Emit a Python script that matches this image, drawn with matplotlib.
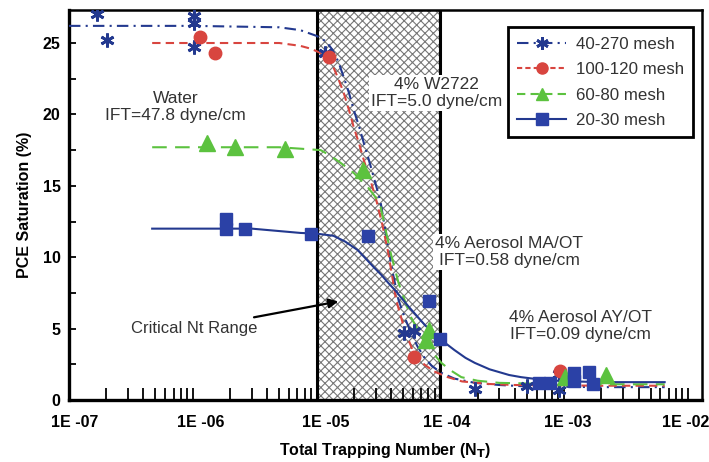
import matplotlib
matplotlib.use("Agg")
import matplotlib.pyplot as plt
import matplotlib.transforms as mtransforms
from matplotlib.lines import Line2D
from matplotlib.ticker import FixedLocator, LogLocator, NullFormatter, MultipleLocator

plt.rcParams['font.family'] = ['Liberation Sans', 'DejaVu Sans']
plt.rcParams['hatch.linewidth'] = 0.8

# measured points
nt_40_270 = [1.69e-7, 2.04e-7, 1.03e-6, 1.03e-6, 1.03e-6, 1.18e-5, 5.1e-5, 6.1e-5, 1.9e-4, 5.0e-4, 9.1e-4, 9.1e-4]
sat_40_270 = [27.0, 25.2, 26.9, 26.4, 24.7, 24.3, 4.7, 4.8, 0.8, 1.0, 1.85, 0.7]

nt_100_120 = [1.14e-6, 1.51e-6, 1.27e-5, 6.1e-5, 9.3e-4]
sat_100_120 = [25.4, 24.3, 24.0, 3.0, 2.0]

nt_60_80 = [1.30e-6, 2.19e-6, 5.6e-6, 2.37e-5, 8.1e-5, 7.6e-5, 1.02e-3, 2.2e-3]
sat_60_80 = [18.0, 17.7, 17.6, 16.1, 4.9, 4.2, 1.6, 1.75]

nt_20_30 = [1.85e-6, 1.85e-6, 2.65e-6, 9.1e-6, 2.6e-5, 8.1e-5, 1.0e-4, 6.3e-4, 7.7e-4, 1.2e-3, 1.2e-3, 1.6e-3, 1.7e-3]
sat_20_30 = [12.7, 12.0, 12.0, 11.6, 11.5, 6.9, 4.3, 1.2, 1.2, 1.9, 1.3, 1.95, 1.1]

# fitted curves
fit_nt_40_270 = [1e-7, 1e-6, 5e-6, 7.4e-6, 1.0e-5, 1.2e-5, 1.35e-5, 1.5e-5, 1.66e-5, 1.83e-5, 2.0e-5,
                 2.2e-5, 2.41e-5, 2.65e-5, 2.9e-5, 3.1e-5, 3.3e-5, 3.55e-5, 3.8e-5, 4.2e-5, 4.6e-5,
                 5.2e-5, 5.8e-5, 6.5e-5, 7.4e-5, 8.5e-5, 1.02e-4, 1.3e-4, 1.9e-4, 3e-4, 5e-4, 2e-3, 6.5e-3]
fit_sat_40_270 = [26.2, 26.2, 26.1, 25.9, 25.5, 25.1, 24.5, 23.7, 22.6, 21.5, 20.3,
                  19.2, 18.0, 16.8, 15.6, 14.7, 13.8, 12.2, 10.6, 8.6, 7.0,
                  5.7, 4.7, 3.8, 3.0, 2.4, 1.9, 1.5, 1.2, 1.05, 0.95, 0.9, 0.9]

fit_nt_100_120 = [4.7e-7, 5e-6, 7.4e-6, 9e-6, 1.08e-5, 1.22e-5, 1.37e-5, 1.5e-5, 1.66e-5, 1.83e-5,
                  2.0e-5, 2.2e-5, 2.41e-5, 2.7e-5, 3.0e-5, 3.4e-5, 3.8e-5, 4.1e-5, 4.4e-5, 5.2e-5,
                  6.1e-5, 7.4e-5, 8.9e-5, 1.15e-4, 1.5e-4, 2.5e-4, 4e-4, 2e-3, 6.5e-3]
fit_sat_100_120 = [25.0, 25.0, 24.8, 24.6, 24.3, 23.9, 23.3, 22.5, 21.5, 20.3,
                   19.1, 18.0, 16.8, 15.5, 14.2, 12.3, 10.3, 8.6, 7.0, 4.8,
                   3.3, 2.5, 2.0, 1.6, 1.3, 1.12, 1.05, 1.0, 1.0]

fit_nt_60_80 = [4.7e-7, 5e-6, 7.4e-6, 1.08e-5, 1.3e-5, 1.57e-5, 2.0e-5, 2.6e-5, 3.0e-5, 3.3e-5,
                3.6e-5, 4.0e-5, 4.6e-5, 5.2e-5, 5.8e-5, 6.5e-5, 7.4e-5, 8.7e-5, 1.02e-4, 1.2e-4,
                1.48e-4, 2.0e-4, 3e-4, 1e-3, 6.5e-3]
fit_sat_60_80 = [17.7, 17.7, 17.6, 17.5, 17.1, 16.6, 15.9, 14.9, 14.2, 13.5,
                 12.0, 10.2, 8.2, 6.9, 5.8, 5.0, 4.2, 3.3, 2.6, 2.1,
                 1.6, 1.35, 1.2, 1.1, 1.1]

fit_nt_20_30 = [4.7e-7, 3e-6, 7.4e-6, 1.0e-5, 1.37e-5, 1.7e-5, 2.15e-5, 2.5e-5, 2.9e-5, 3.35e-5,
                3.8e-5, 4.3e-5, 4.8e-5, 5.6e-5, 6.6e-5, 7.6e-5, 8.9e-5, 1.02e-4, 1.3e-4, 1.6e-4,
                1.9e-4, 2.5e-4, 3.0e-4, 3.6e-4, 4.5e-4, 6.6e-4, 1e-3, 2e-3, 6.5e-3]
fit_sat_20_30 = [12.0, 12.0, 11.7, 11.65, 11.5, 11.1, 10.5, 9.9, 9.3, 8.75,
                 8.2, 7.7, 7.2, 6.5, 5.8, 5.2, 4.7, 4.2, 3.5, 2.95,
                 2.6, 2.15, 1.95, 1.75, 1.6, 1.42, 1.32, 1.25, 1.25]

decades = [1e-7, 1e-6, 1e-5, 1e-4, 1e-3, 1e-2]
decade_labels = ["1E -07", "1E -06", "1E -05", "1E -04", "1E -03", "1E -02"]

navy = "#23398f"
red = "#d8453f"
green = "#5cc23f"
square_blue = "#2b41a6"

fig = plt.figure(figsize=(7.09, 4.62), dpi=100)
ax = fig.add_axes([0.0973, 0.1342, 0.8927, 0.8438])
ax.set_xscale("log")

# critical Nt range
ax.axvspan(1e-5, 1e-4, facecolor="white", edgecolor="#777777", hatch="xxxx", linewidth=0, zorder=0)
ax.axvline(1e-5, color="black", lw=2.2, zorder=1)
ax.axvline(1e-4, color="black", lw=2.2, zorder=1)

lw = 1.5
ax.plot(fit_nt_40_270, fit_sat_40_270, color=navy, lw=lw, dashes=(5.5, 2.5, 1, 2.5), zorder=3)
ax.plot(fit_nt_100_120, fit_sat_100_120, color=red, lw=lw, dashes=(4, 2.5), zorder=3)
ax.plot(fit_nt_60_80, fit_sat_60_80, color=green, lw=lw, dashes=(7, 4), zorder=3)
ax.plot(fit_nt_20_30, fit_sat_20_30, color=navy, lw=lw, zorder=3)

star = (6, 2, 0)
ax.plot(nt_40_270, sat_40_270, ls="none", marker=star, ms=10, mew=2, color=navy, zorder=4)
ax.plot(nt_100_120, sat_100_120, ls="none", marker="o", ms=9, color=red, zorder=4)
ax.plot(nt_60_80, sat_60_80, ls="none", marker="^", ms=11, color=green, zorder=4)
ax.plot(nt_20_30, sat_20_30, ls="none", marker="s", ms=9, color=square_blue, zorder=4)

txt = dict(fontsize=12.5, color="#333333", ha="center", va="center", linespacing=1.15, zorder=2,
           bbox=dict(fc="white", ec="none", pad=1.5))
ax.text(7.3e-7, 20.5, "Water\nIFT=47.8 dyne/cm", **txt)
ax.text(9.3e-5, 21.5, "4% W2722\nIFT=5.0 dyne/cm", **txt)
ax.text(3.6e-4, 10.35, "4% Aerosol MA/OT\nIFT=0.58 dyne/cm", **txt)
ax.text(1.35e-3, 5.2, "4% Aerosol AY/OT\nIFT=0.09 dyne/cm", **txt)

ax.annotate("Critical Nt Range", xy=(1.5e-5, 6.9), xytext=(1.02e-6, 5.0),
            fontsize=12, color="#333333", ha="center", va="center",
            arrowprops=dict(arrowstyle="-|>", color="black", lw=1.6, shrinkA=4, shrinkB=0,
                            mutation_scale=14))

ax.set_xlim(1e-7, 1.3e-2)
ax.set_ylim(0, 27.3)

ax.xaxis.set_major_locator(FixedLocator(decades))
ax.set_xticklabels(decade_labels)
ax.xaxis.set_minor_locator(LogLocator(base=10, subs=[2, 3, 4, 5, 6, 7, 8, 9], numticks=20))
ax.xaxis.set_minor_formatter(NullFormatter())
ax.tick_params(axis="x", which="both", direction="in", length=9, width=1.3, pad=11,
               labelsize=11.5)
shifts_px = [6, 8, 9, 6, 4, -2]
for lab, dx in zip(ax.get_xticklabels(), shifts_px):
    lab.set_transform(lab.get_transform() + mtransforms.ScaledTranslation(dx / 100, 0, fig.dpi_scale_trans))
    lab.set_fontweight("bold")

ax.yaxis.set_major_locator(MultipleLocator(5))
ax.yaxis.set_minor_locator(MultipleLocator(2.5))
ax.tick_params(axis="y", which="both", direction="in", length=5, width=1.3, pad=6,
               labelsize=11.5)
for lab in ax.get_yticklabels():
    lab.set_fontweight("bold")
ax.tick_params(top=False, right=False, which="both")

for side in ["left", "bottom"]:
    ax.spines[side].set_linewidth(2.4)
for side in ["top", "right"]:
    ax.spines[side].set_linewidth(1.8)

ax.set_xlabel("Total Trapping Number (N$_\\mathbf{T}$)", fontsize=11.5, fontweight="bold", labelpad=8)
ax.set_ylabel("PCE Saturation (%)", fontsize=11.5, fontweight="bold", labelpad=8)

handles = [
    Line2D([], [], color=navy, lw=lw, dashes=(5.5, 2.5, 1, 2.5), marker=star, ms=9, mew=2),
    Line2D([], [], color=red, lw=lw, dashes=(2.5, 1.5), marker="o", ms=8),
    Line2D([], [], color=green, lw=lw, dashes=(4, 2.5), marker="^", ms=9),
    Line2D([], [], color=navy, lw=lw, marker="s", ms=8, markerfacecolor=square_blue, markeredgecolor=square_blue),
]
leg = ax.legend(handles, ["40-270 mesh", "100-120 mesh", "60-80 mesh", "20-30 mesh"],
                loc="upper right", bbox_to_anchor=(0.986, 0.956), borderaxespad=0,
                fontsize=12.2, handlelength=2.9, fancybox=False, framealpha=1,
                edgecolor="black", labelspacing=0.62, borderpad=0.55, handletextpad=0.55)
leg.get_frame().set_linewidth(2)
for t in leg.get_texts():
    t.set_color("#333333")

fig.savefig("out.png", dpi=100)
